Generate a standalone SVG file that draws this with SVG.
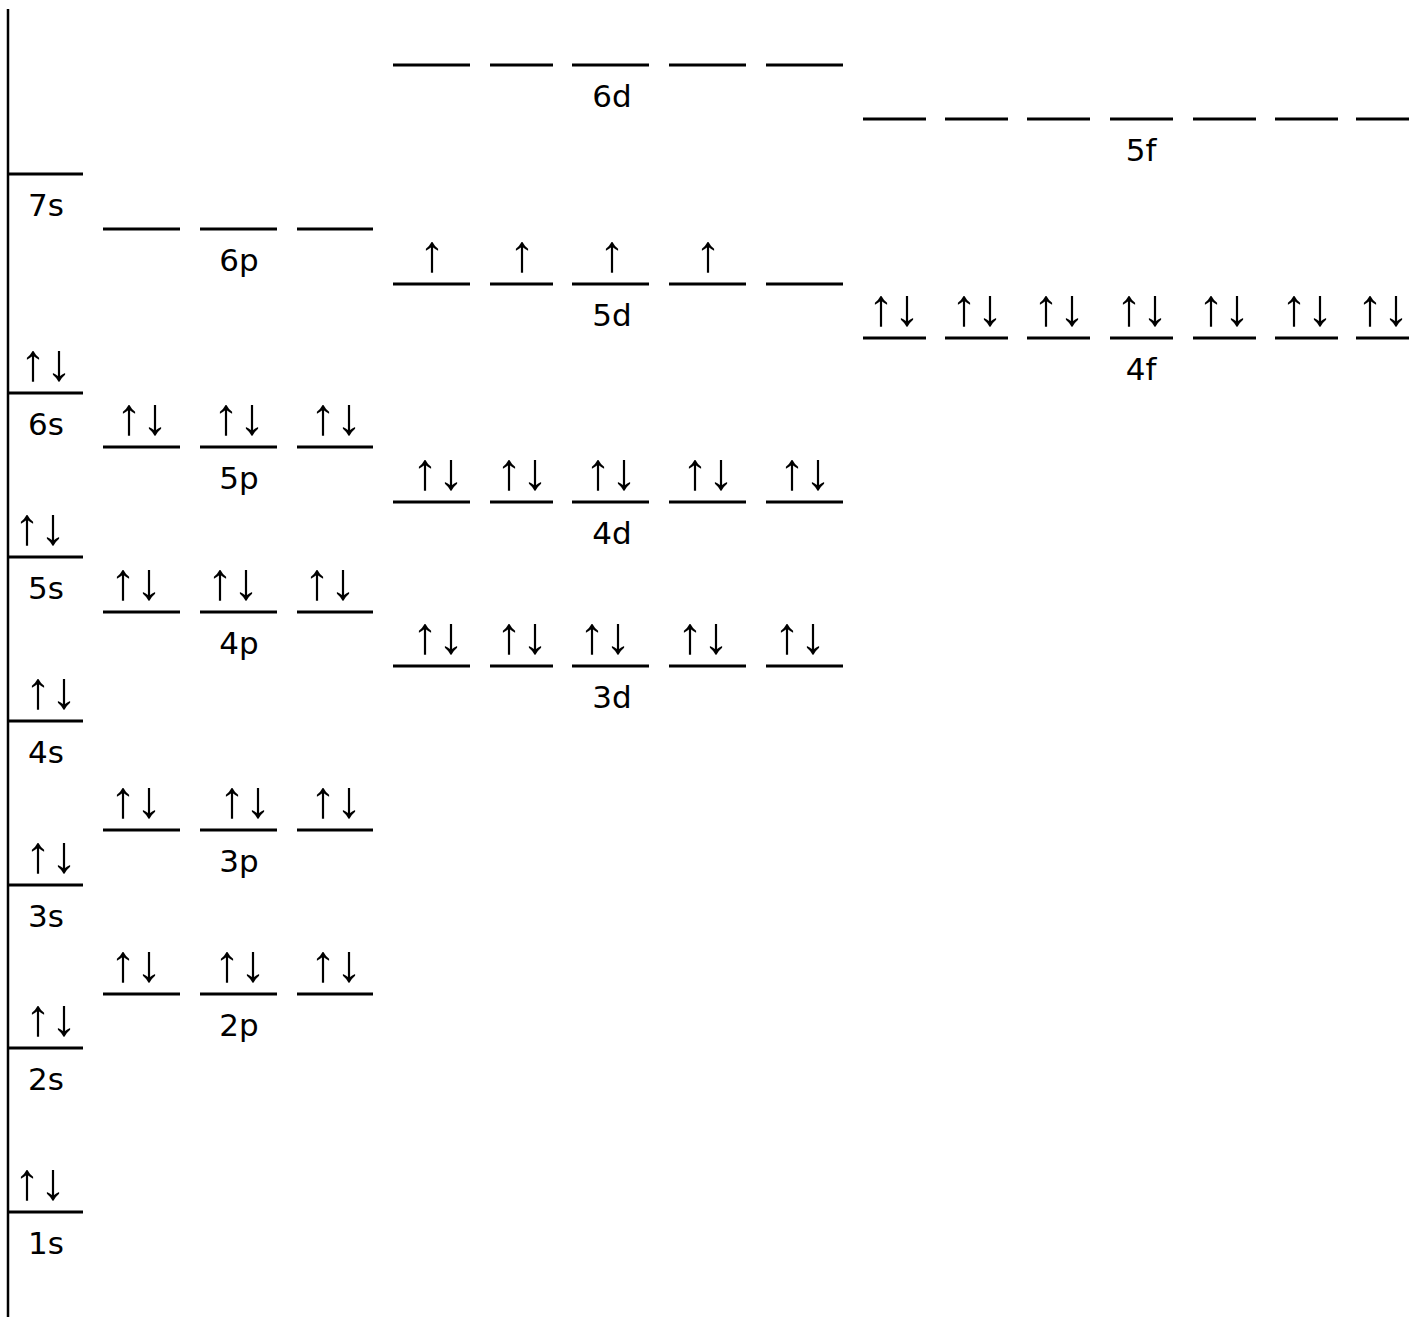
<svg xmlns="http://www.w3.org/2000/svg" width="1409" height="1317" viewBox="0 0 1409 1317">
<style>
.lv{stroke:#000;stroke-width:3;fill:none}
.lb{font-family:"DejaVu Sans",sans-serif;font-size:31px;fill:#000;text-anchor:middle}
.ar{font-family:"Liberation Sans",sans-serif;font-size:52px;fill:#000;text-anchor:middle}
</style>
<rect width="1409" height="1317" fill="#fff"/>
<g id="axis"><line x1="8" y1="9" x2="8" y2="1317" stroke="#000" stroke-width="2.5"/></g>
<g id="connectors"></g>
<g id="orb-7s"><line class="lv" x1="8" y1="174" x2="83" y2="174"/><text class="lb" x="46" y="216">7s</text></g>
<g id="orb-6s"><line class="lv" x1="8" y1="393" x2="83" y2="393"/><text class="lb" x="46" y="435">6s</text><text class="ar" x="46" y="380">↑↓</text></g>
<g id="orb-5s"><line class="lv" x1="8" y1="557" x2="83" y2="557"/><text class="lb" x="46" y="599">5s</text><text class="ar" x="40" y="544">↑↓</text></g>
<g id="orb-4s"><line class="lv" x1="8" y1="721" x2="83" y2="721"/><text class="lb" x="46" y="763">4s</text><text class="ar" x="51" y="708">↑↓</text></g>
<g id="orb-3s"><line class="lv" x1="8" y1="885" x2="83" y2="885"/><text class="lb" x="46" y="927">3s</text><text class="ar" x="51" y="872">↑↓</text></g>
<g id="orb-2s"><line class="lv" x1="8" y1="1048" x2="83" y2="1048"/><text class="lb" x="46" y="1090">2s</text><text class="ar" x="51" y="1035">↑↓</text></g>
<g id="orb-1s"><line class="lv" x1="8" y1="1212" x2="83" y2="1212"/><text class="lb" x="46" y="1254">1s</text><text class="ar" x="40" y="1199">↑↓</text></g>

<g id="orb-6p"><line class="lv" x1="103" y1="229" x2="180" y2="229"/><line class="lv" x1="200" y1="229" x2="277" y2="229"/><line class="lv" x1="297" y1="229" x2="373" y2="229"/><text class="lb" x="239" y="271">6p</text></g>
<g id="orb-5p"><line class="lv" x1="103" y1="447" x2="180" y2="447"/><line class="lv" x1="200" y1="447" x2="277" y2="447"/><line class="lv" x1="297" y1="447" x2="373" y2="447"/><text class="lb" x="239" y="489">5p</text><text class="ar" x="142" y="434">↑↓</text><text class="ar" x="239" y="434">↑↓</text><text class="ar" x="336" y="434">↑↓</text></g>
<g id="orb-4p"><line class="lv" x1="103" y1="612" x2="180" y2="612"/><line class="lv" x1="200" y1="612" x2="277" y2="612"/><line class="lv" x1="297" y1="612" x2="373" y2="612"/><text class="lb" x="239" y="654">4p</text><text class="ar" x="136" y="599">↑↓</text><text class="ar" x="233" y="599">↑↓</text><text class="ar" x="330" y="599">↑↓</text></g>
<g id="orb-3p"><line class="lv" x1="103" y1="830" x2="180" y2="830"/><line class="lv" x1="200" y1="830" x2="277" y2="830"/><line class="lv" x1="297" y1="830" x2="373" y2="830"/><text class="lb" x="239" y="872">3p</text><text class="ar" x="136" y="817">↑↓</text><text class="ar" x="245" y="817">↑↓</text><text class="ar" x="336" y="817">↑↓</text></g>
<g id="orb-2p"><line class="lv" x1="103" y1="994" x2="180" y2="994"/><line class="lv" x1="200" y1="994" x2="277" y2="994"/><line class="lv" x1="297" y1="994" x2="373" y2="994"/><text class="lb" x="239" y="1036">2p</text><text class="ar" x="136" y="981">↑↓</text><text class="ar" x="240" y="981">↑↓</text><text class="ar" x="336" y="981">↑↓</text></g>

<g id="orb-6d"><line class="lv" x1="393" y1="65" x2="470" y2="65"/><line class="lv" x1="490" y1="65" x2="553" y2="65"/><line class="lv" x1="572" y1="65" x2="649" y2="65"/><line class="lv" x1="669" y1="65" x2="746" y2="65"/><line class="lv" x1="766" y1="65" x2="843" y2="65"/><text class="lb" x="612" y="107">6d</text></g>
<g id="orb-5d"><line class="lv" x1="393" y1="284" x2="470" y2="284"/><line class="lv" x1="490" y1="284" x2="553" y2="284"/><line class="lv" x1="572" y1="284" x2="649" y2="284"/><line class="lv" x1="669" y1="284" x2="746" y2="284"/><line class="lv" x1="766" y1="284" x2="843" y2="284"/><text class="lb" x="612" y="326">5d</text><text class="ar" x="432" y="271">↑</text><text class="ar" x="522" y="271">↑</text><text class="ar" x="612" y="271">↑</text><text class="ar" x="708" y="271">↑</text></g>
<g id="orb-4d"><line class="lv" x1="393" y1="502" x2="470" y2="502"/><line class="lv" x1="490" y1="502" x2="553" y2="502"/><line class="lv" x1="572" y1="502" x2="649" y2="502"/><line class="lv" x1="669" y1="502" x2="746" y2="502"/><line class="lv" x1="766" y1="502" x2="843" y2="502"/><text class="lb" x="612" y="544">4d</text><text class="ar" x="438" y="489">↑↓</text><text class="ar" x="522" y="489">↑↓</text><text class="ar" x="611" y="489">↑↓</text><text class="ar" x="708" y="489">↑↓</text><text class="ar" x="805" y="489">↑↓</text></g>
<g id="orb-3d"><line class="lv" x1="393" y1="666" x2="470" y2="666"/><line class="lv" x1="490" y1="666" x2="553" y2="666"/><line class="lv" x1="572" y1="666" x2="649" y2="666"/><line class="lv" x1="669" y1="666" x2="746" y2="666"/><line class="lv" x1="766" y1="666" x2="843" y2="666"/><text class="lb" x="612" y="708">3d</text><text class="ar" x="438" y="653">↑↓</text><text class="ar" x="522" y="653">↑↓</text><text class="ar" x="605" y="653">↑↓</text><text class="ar" x="703" y="653">↑↓</text><text class="ar" x="800" y="653">↑↓</text></g>

<g id="orb-5f"><line class="lv" x1="863" y1="119" x2="926" y2="119"/><line class="lv" x1="945" y1="119" x2="1008" y2="119"/><line class="lv" x1="1027" y1="119" x2="1090" y2="119"/><line class="lv" x1="1110" y1="119" x2="1173" y2="119"/><line class="lv" x1="1193" y1="119" x2="1256" y2="119"/><line class="lv" x1="1275" y1="119" x2="1338" y2="119"/><line class="lv" x1="1356" y1="119" x2="1409" y2="119"/><text class="lb" x="1141" y="161">5f</text></g>
<g id="orb-4f"><line class="lv" x1="863" y1="338" x2="926" y2="338"/><line class="lv" x1="945" y1="338" x2="1008" y2="338"/><line class="lv" x1="1027" y1="338" x2="1090" y2="338"/><line class="lv" x1="1110" y1="338" x2="1173" y2="338"/><line class="lv" x1="1193" y1="338" x2="1256" y2="338"/><line class="lv" x1="1275" y1="338" x2="1338" y2="338"/><line class="lv" x1="1356" y1="338" x2="1409" y2="338"/><text class="lb" x="1141" y="380">4f</text><text class="ar" x="894" y="325">↑↓</text><text class="ar" x="977" y="325">↑↓</text><text class="ar" x="1059" y="325">↑↓</text><text class="ar" x="1142" y="325">↑↓</text><text class="ar" x="1224" y="325">↑↓</text><text class="ar" x="1307" y="325">↑↓</text><text class="ar" x="1383" y="325">↑↓</text></g>
</svg>
